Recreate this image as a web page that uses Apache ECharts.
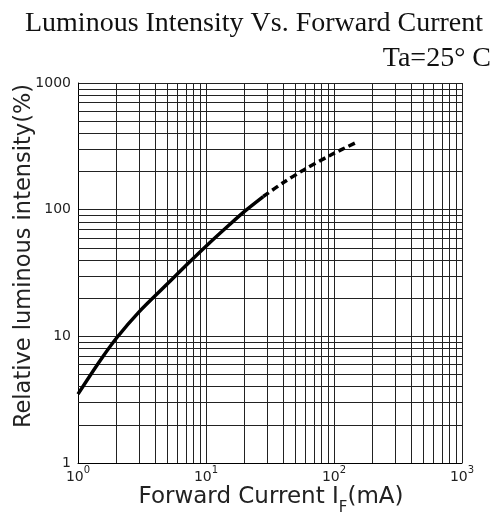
<!DOCTYPE html>
<html><head><meta charset="utf-8">
<script src="https://cdn.jsdelivr.net/npm/echarts@6/dist/echarts.min.js"></script>
<style>html,body{margin:0;padding:0;background:#fff}#c{width:499px;height:518px}</style>
</head><body><div id="c"></div>
<script>
// Data
const solidCurrent = [1, 1.5, 2, 3, 5, 7, 10, 15, 20, 28];
const solidIntensity = [3.5, 6.5, 9.7, 15.6, 26, 36.4, 51.5, 75, 97, 127];
const dashCurrent = [28, 40, 57.6, 93, 150];
const dashIntensity = [127, 163, 205, 268, 340];
const xExponents = [0, 1, 2, 3];
const yTickLabels = ['1', '10', '100', '1000'];
const minorMultipliers = [2, 3, 4, 5, 6, 7, 8, 9];
const decades = [1, 10, 100];

const minorValues = [];
decades.forEach(d => minorMultipliers.forEach(m => minorValues.push(d * m)));

const gridColor = '#222';
const sansFont = 'DejaVu Sans';

const chart = echarts.init(document.getElementById('c'), null, {renderer: 'canvas'});
chart.setOption({
  animation: false,
  backgroundColor: '#fff',
  grid: {left: 78, right: 37, top: 83, bottom: 55},
  xAxis: {
    type: 'log', logBase: 10, min: 1, max: 1000,
    axisLine: {show: true, lineStyle: {color: '#000', width: 1}},
    axisTick: {show: false},
    splitLine: {show: true, lineStyle: {color: gridColor, width: 1}},
    axisLabel: {
      margin: 2,
      formatter: v => '{b|10}{s|' + Math.round(Math.log10(v)) + '}',
      rich: {
        b: {fontFamily: sansFont, fontSize: 14, color: '#222', lineHeight: 19, verticalAlign: 'bottom'},
        s: {fontFamily: sansFont, fontSize: 10, color: '#222', lineHeight: 11, verticalAlign: 'top'}
      }
    }
  },
  yAxis: {
    type: 'log', logBase: 10, min: 1, max: 1000,
    axisLine: {show: true, lineStyle: {color: '#000', width: 1}},
    axisTick: {show: false},
    splitLine: {show: true, lineStyle: {color: gridColor, width: 1}},
    axisLabel: {
      margin: 7, fontFamily: sansFont, fontSize: 14, color: '#222',
      formatter: v => yTickLabels[Math.round(Math.log10(v))]
    }
  },
  graphic: [
    {type: 'text', x: 254, y: 24,
     style: {text: 'Luminous Intensity Vs. Forward Current', fontFamily: 'Liberation Serif', fontSize: 28, fill: '#111', align: 'center', verticalAlign: 'middle'}},
    {type: 'text', x: 491, y: 59,
     style: {text: 'Ta=25° C', fontFamily: 'Liberation Serif', fontSize: 28, fill: '#111', align: 'right', verticalAlign: 'middle'}},
    {type: 'text', x: 271, y: 497,
     style: {text: 'Forward Current I{sub|F}(mA)', fontFamily: sansFont, fontSize: 23, fill: '#222', align: 'center', verticalAlign: 'middle',
       rich: {sub: {fontFamily: sansFont, fontSize: 15, fill: '#222', verticalAlign: 'bottom', lineHeight: 15, padding: [0,0,-7,0]}}}},
    {type: 'text', x: 24, y: 256, rotation: Math.PI / 2,
     style: {text: 'Relative luminous intensity(%)', fontFamily: sansFont, fontSize: 22.5, fill: '#222', align: 'center', verticalAlign: 'middle'}}
  ],
  series: [
    {type: 'line', data: [], silent: true,
     markLine: {silent: true, symbol: 'none', label: {show: false},
       lineStyle: {color: gridColor, width: 1, type: 'solid'},
       data: minorValues.map(v => ({xAxis: v})).concat(minorValues.map(v => ({yAxis: v})))}},
    {type: 'line', data: solidCurrent.map((c, i) => [c, solidIntensity[i]]),
     smooth: 0.3, showSymbol: false, lineStyle: {color: '#000', width: 3.5}, z: 5},
    {type: 'line', data: dashCurrent.map((c, i) => [c, dashIntensity[i]]),
     smooth: 0.3, showSymbol: false, lineStyle: {color: '#000', width: 3.5, type: [7, 4]}, z: 5}
  ]
});
</script></body></html>
